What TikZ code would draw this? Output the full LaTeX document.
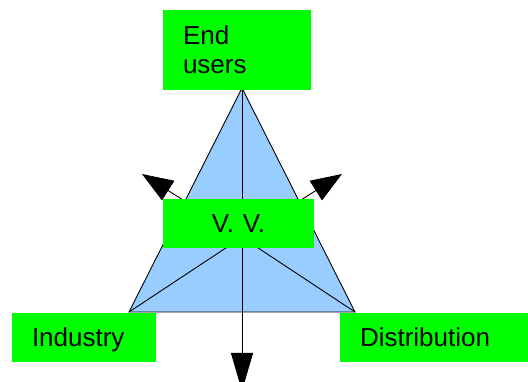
\documentclass[tikz,border=0pt]{standalone}
\usepackage{fontspec}
\setmainfont{Liberation Sans}
\usetikzlibrary{arrows.meta}
\definecolor{boxgreen}{RGB}{0,255,0}
\definecolor{triblue}{RGB}{153,204,255}

\begin{document}
\begin{tikzpicture}[x=1pt,y=-1pt,
  greenbox/.style={fill=boxgreen, draw=none, inner xsep=20pt, inner ysep=0pt,
    align=left, font=\fontsize{26}{29}\selectfont,
    text height=19pt, text depth=0pt},
  edge/.style={draw=black, line width=0.9pt},
  bigarrow/.style={edge, -{Triangle[length=31pt,width=23pt]}}]
\useasboundingbox (0,0) rectangle (528,382);

% corners of the triangle, its centroid and the arrow tips
\coordinate (apex) at (242,88);
\coordinate (L) at (129,312);
\coordinate (R) at (355,312);
\coordinate (G) at (242,237.3);
\coordinate (tipL) at (142,174);
\coordinate (tipR) at (342,174);
\coordinate (tipB) at (242,391);

% triangle
\filldraw[fill=triblue, edge] (apex) -- (L) -- (R) -- cycle;
\draw[edge] (L) -- (G) -- (R);

% arrows
\draw[edge, -{Triangle[length=38pt,width=22pt]}] (apex) -- (tipB);
\draw[bigarrow] (G) -- (tipL);
\draw[bigarrow] (G) -- (tipR);

% boxes
\node[greenbox, minimum width=148pt, minimum height=80pt, text width=108pt,
      text height=18.5pt, text depth=29pt] (users) at (237,50) {End\\users};
\node[greenbox, minimum width=151pt, minimum height=49pt, text width=111pt,
      align=center] (vv) at (238.5,223.5) {V. V.};
\node[greenbox, minimum width=144pt, minimum height=49pt, text width=104pt]
      (industry) at (84,337.5) {Industry};
\node[greenbox, minimum width=188pt, minimum height=49pt, text width=148pt]
      (distribution) at (434,337.5) {Distribution};
\end{tikzpicture}
\end{document}
